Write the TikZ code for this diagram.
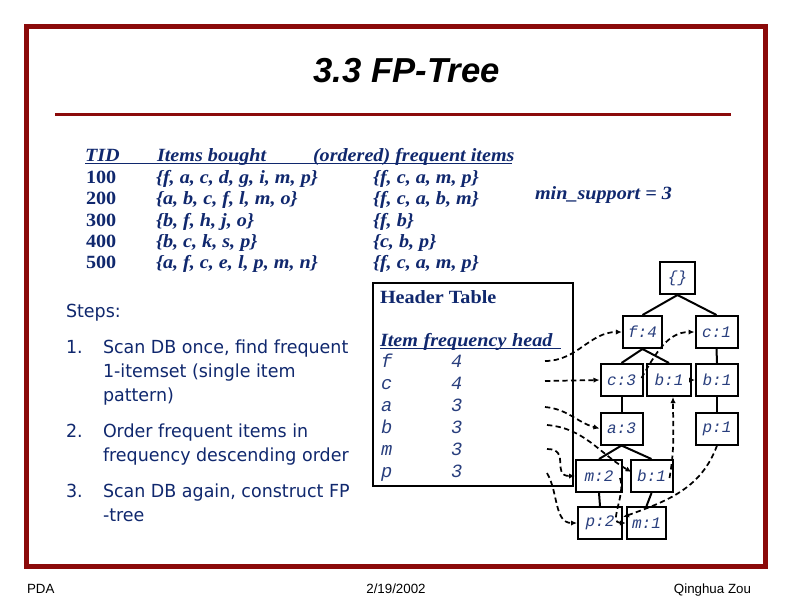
\documentclass[tikz,border=0pt]{standalone}
\usepackage{fontspec}
\setmainfont{Liberation Serif}
\newfontfamily\tnr[FakeStretch=1.08]{Liberation Serif}
\newfontfamily\arial{Liberation Sans}
\newfontfamily\tahoma[FakeStretch=0.97]{DejaVu Sans}
\newfontfamily\cour{Liberation Mono}
\usetikzlibrary{arrows.meta,calc}
\definecolor{framered}{RGB}{139,10,10}
\definecolor{navy}{RGB}{16,40,110}
\definecolor{treeblue}{RGB}{40,62,125}
\begin{document}
\begin{tikzpicture}[x=0.75pt,y=-0.75pt,
  txt/.style={anchor=base west,inner sep=0pt,outer sep=0pt},
  tbl/.style={txt,text=navy,font=\tnr\fontsize{14}{16}\selectfont\bfseries\itshape},
  tid/.style={txt,text=navy,font=\tnr\fontsize{14}{16}\selectfont\bfseries},
  steptxt/.style={txt,text=navy,font=\tahoma\fontsize{13.5}{16}\selectfont},
  hitem/.style={txt,text=treeblue,font=\cour\fontsize{14}{16}\selectfont\itshape},
  tnode/.style={draw=black,line width=1.5pt,minimum width=31.5pt,minimum height=24pt,inner sep=0pt,text=treeblue,font=\cour\fontsize{12}{14}\selectfont\itshape},
  tedge/.style={line width=1.5pt},
  link/.style={line width=1.3pt,dash pattern=on 4pt off 2.5pt,-{Latex[length=4.5pt,width=4pt]}},
  foot/.style={txt,font=\arial\fontsize{10}{12}\selectfont}
]
\useasboundingbox (0,0) rectangle (792,612);
\fill[white] (0,0) rectangle (792,612);
% frame and title
\draw[framered,line width=3.75pt] (26.5,26.5) rectangle (765.5,566);
\node[anchor=base,inner sep=0pt,font=\arial\fontsize{26}{30}\selectfont\bfseries\itshape] (title) at (406.5,82) {3.3 FP-Tree};
\draw[framered,line width=2.25pt] (55,114.5) -- (731,114.5);
% transaction table
\node[tbl] (hTID) at (85,161) {TID};
\node[tbl] (hItems) at (157,161) {Items bought};
\node[tbl] (hFreq) at (313,161) {(ordered) frequent items};
\draw[navy,line width=1.2pt] (85,163.5) -- (512,163.5);
\node[tid] (t1) at (86,183) {100};
\node[tid] (t2) at (86,204.5) {200};
\node[tid] (t3) at (86,226) {300};
\node[tid] (t4) at (86,247) {400};
\node[tid] (t5) at (86,268) {500};
\node[tbl] (i1) at (156,183) {\{f, a, c, d, g, i, m, p\}};
\node[tbl] (i2) at (156,204.5) {\{a, b, c, f, l, m, o\}};
\node[tbl] (i3) at (156,226) {\{b, f, h, j, o\}};
\node[tbl] (i4) at (156,247) {\{b, c, k, s, p\}};
\node[tbl] (i5) at (156,268) {\{a, f, c, e, l, p, m, n\}};
\node[tbl] (f1) at (373,183) {\{f, c, a, m, p\}};
\node[tbl] (f2) at (373,204.5) {\{f, c, a, b, m\}};
\node[tbl] (f3) at (373,226) {\{f, b\}};
\node[tbl] (f4t) at (373,247) {\{c, b, p\}};
\node[tbl] (f5) at (373,268) {\{f, c, a, m, p\}};
\node[tbl] (minsup) at (535,199) {min\_support = 3};
% steps
\node[steptxt] (steps) at (66,317) {Steps:};
\node[steptxt] (n1) at (66,353) {1.};
\node[steptxt] (s1a) at (103,353) {Scan DB once, find frequent};
\node[steptxt] (s1b) at (103,377) {1-itemset (single item};
\node[steptxt] (s1c) at (103,401) {pattern)};
\node[steptxt] (n2) at (66,437) {2.};
\node[steptxt] (s2a) at (103,437) {Order frequent items in};
\node[steptxt] (s2b) at (103,461) {frequency descending order};
\node[steptxt] (n3) at (66,497) {3.};
\node[steptxt] (s3a) at (103,497) {Scan DB again, construct FP};
\node[steptxt] (s3b) at (103,521) {-tree};
% header table
\draw[line width=1.5pt] (373,283) rectangle (573,486);
\node[txt,text=navy,font=\tnr\fontsize{14}{16}\selectfont\bfseries] (htitle) at (380,303) {Header Table};
\node[tbl] (hcols) at (380,346) {Item\hspace{0.3em}frequency\hspace{0.3em}head};
\draw[navy,line width=1.2pt] (380,348.5) -- (561,348.5);
\node[hitem] (hf) at (381,367) {f};
\node[hitem] (hc) at (381,389) {c};
\node[hitem] (ha) at (381,411) {a};
\node[hitem] (hb) at (381,433) {b};
\node[hitem] (hm) at (381,455) {m};
\node[hitem] (hp) at (381,477) {p};
\node[hitem] (qf) at (451,367) {4};
\node[hitem] (qc) at (451,389) {4};
\node[hitem] (qa) at (451,411) {3};
\node[hitem] (qb) at (451,433) {3};
\node[hitem] (qm) at (451,455) {3};
\node[hitem] (qp) at (451,477) {3};
\coordinate (lf) at (545,361);
\coordinate (lc) at (545,381);
\coordinate (la) at (545,407);
\coordinate (lb) at (547,425);
\coordinate (lm) at (547,449);
\coordinate (lp) at (547,473);
% tree
\node[tnode,minimum width=26pt] (root) at (677.5,278) {\{\}};
\node[tnode,minimum width=29.5pt] (f4) at (642.5,332) {f:4};
\node[tnode] (c1) at (716.5,332) {c:1};
\node[tnode] (c3) at (621.5,380) {c:3};
\node[tnode,minimum width=33pt] (b1a) at (669,380) {b:1};
\node[tnode] (b1b) at (717,380) {b:1};
\node[tnode] (a3) at (621.5,428.5) {a:3};
\node[tnode] (p1) at (717,428.5) {p:1};
\node[tnode,minimum width=34.5pt] (m2) at (599,476) {m:2};
\node[tnode] (b1c) at (651.5,476) {b:1};
\node[tnode,minimum width=33pt] (p2) at (600,523) {p:2};
\node[tnode,minimum width=29.5pt] (m1) at (646.5,523) {m:1};
\draw[tedge] (root.south) -- (f4.north);
\draw[tedge] (root.south) -- (c1.north);
\draw[tedge] (f4.south) -- (c3.north);
\draw[tedge] (f4.south) -- (b1a.north);
\draw[tedge] (c1.south) -- (b1b.north);
\draw[tedge] (c3.south) -- (a3.north);
\draw[tedge] (b1b.south) -- (p1.north);
\draw[tedge] (a3.south) -- (m2.north);
\draw[tedge] (a3.south) -- (b1c.north);
\draw[tedge] (m2.south) -- (p2.north);
\draw[tedge] (b1c.south) -- (m1.north);
% node links
\draw[link] (lf) to[out=0,in=180] (f4.west);
\draw[link] (lc) -- (c3.west);
\draw[link] (la) to[out=-5,in=165] (a3.west);
\draw[link] (lb) to[out=-5,in=150] ($(b1c.west)+(2,-4)$);
\draw[link] (lm) to[out=0,in=180,looseness=1.6] (m2.west);
\draw[link] (lp) to[out=-60,in=180] (p2.west);
\draw[link] ($(c3.east)+(-2,-2)$) to[out=60,in=180] (c1.west);
\draw[link] (b1a.east) -- (b1b.west);
\draw[link] ($(b1c.east)+(-4,2)$) to[out=80,in=-90] ($(b1a.south)+(4,0)$);
\draw[link] ($(m2.east)+(-3,2)$) to[out=-70,in=180] (m1.west);
\draw[link] (p1.south) to[out=-110,in=20] ($(p2.east)+(0,-6)$);
% footer
\node[foot] (fpda) at (27,593) {PDA};
\node[foot,anchor=base] (fdate) at (396,593) {2/19/2002};
\node[foot,anchor=base east] (fauth) at (751,593) {Qinghua Zou};
\end{tikzpicture}
\end{document}
